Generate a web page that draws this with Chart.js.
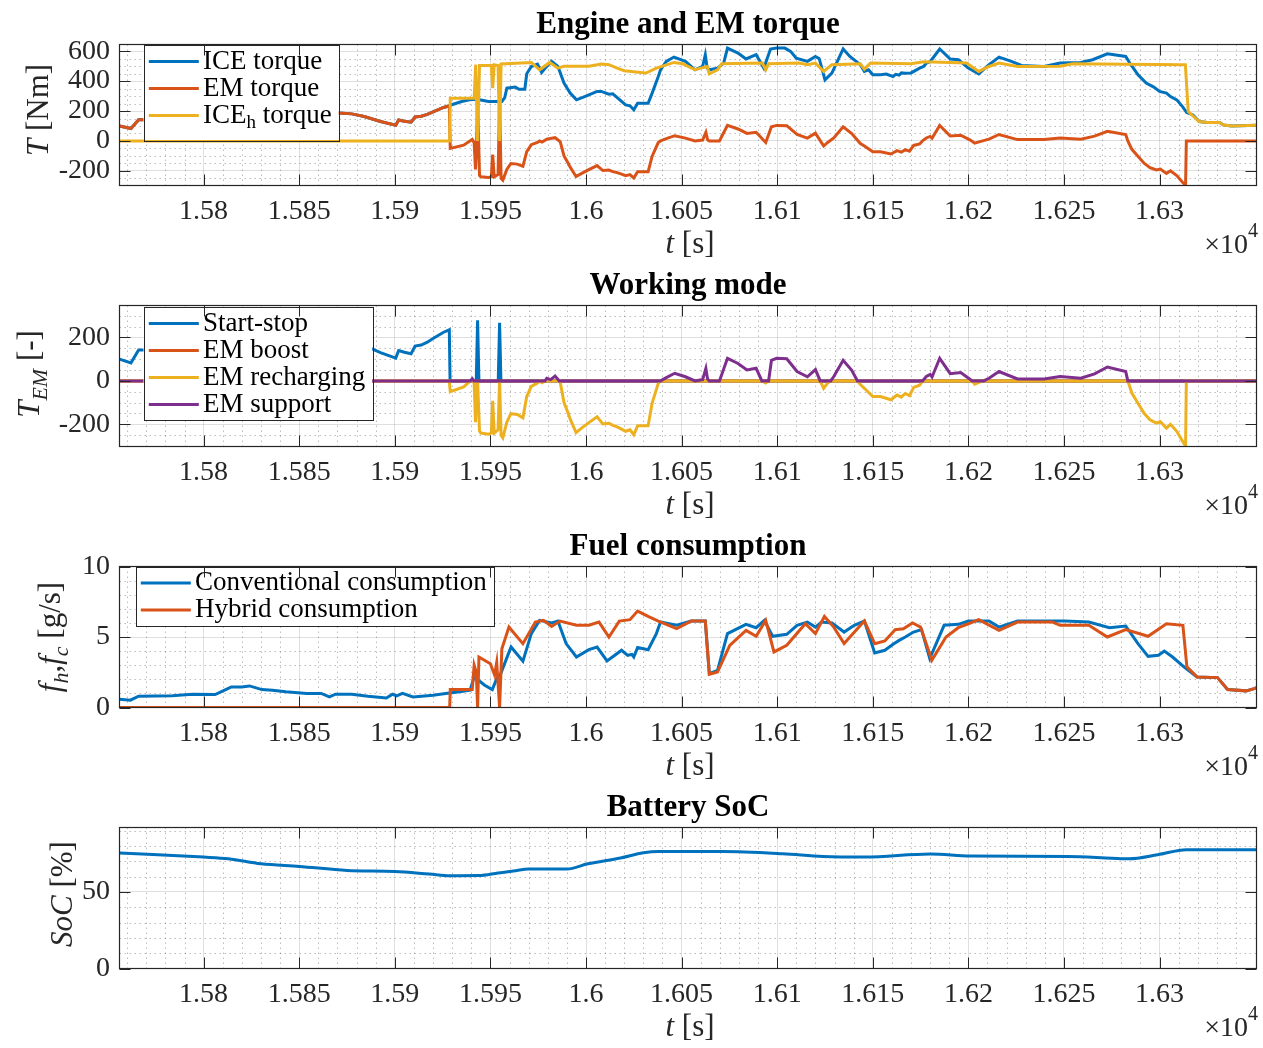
<!DOCTYPE html>
<html>
<head>
<meta charset="utf-8">
<title>Engine, EM, fuel and SoC</title>
<script src="https://cdn.jsdelivr.net/npm/chart.js@4.4.1/dist/chart.umd.min.js"></script>
<style>
  body { margin: 0; background: #fff; }
  canvas { position: absolute; left: 0; }
</style>
</head>
<body>
<canvas id="cTorque" width="1263" height="261" style="top:0px"></canvas>
<canvas id="cMode" width="1263" height="261" style="top:261px"></canvas>
<canvas id="cFuel" width="1263" height="261" style="top:522px"></canvas>
<canvas id="cSoc" width="1263" height="261" style="top:783px"></canvas>
<script>
// time axis (s), shown as x10^4
const X_MIN = 15756, X_MAX = 16350.7;
const xTicks = [15800, 15850, 15900, 15950, 16000, 16050, 16100, 16150, 16200, 16250, 16300];
const xTickLabels = ['1.58', '1.585', '1.59', '1.595', '1.6', '1.605', '1.61', '1.615', '1.62', '1.625', '1.63'];

// ---- Engine and EM torque [t, Nm]
const iceTorque = [[15756,100],[15762,83],[15766,142],[15770,142],[15780,150],[15800,175],[15815,210],[15830,210],[15850,195],[15873,186],
  [15877.5,181],[15884,163],[15892.5,130],[15900.5,105],[15902,140],[15905,132],[15908.5,125],[15910.6,160],[15913.8,165],[15917,178],
  [15920,195],[15925.5,224],[15928.5,235],[15929,239],[15935,264],[15939,275],[15943,279],[15949,264],[15956,264],[15957.5,290],
  [15958.6,353],[15963,360],[15965,346],[15968,346],[15969,449],[15971.4,498],[15974.6,514],[15976.8,458],[15979,492],[15982,532],
  [15985.3,498],[15988.5,387],[15991.7,320],[15995,275],[15998,290],[16001.5,308],[16005.8,331],[16008,331],[16012,313],[16014,315],
  [16018.6,264],[16020.7,241],[16023,235],[16025,208],[16027,252],[16032.5,252],[16034.6,320],[16037.8,431],[16039,476],[16042,532],
  [16046,561],[16052,532],[16057,476],[16061,498],[16062.4,577],[16063.4,487],[16064.5,476],[16068.8,487],[16072,521],[16074,621],
  [16079.5,588],[16083.7,548],[16089,577],[16093,487],[16096.5,615],[16099.7,621],[16104,621],[16107,599],[16110,554],[16115.8,532],
  [16120,565],[16122,550],[16125,409],[16128.6,454],[16134.5,615],[16138,565],[16143.5,510],[16145.6,465],[16147.8,476],[16150,443],
  [16154,443],[16157,447],[16160.6,431],[16162,445],[16163.8,440],[16165,455],[16167,452],[16170,455],[16174.5,487],[16176.6,498],
  [16178,520],[16180,530],[16185,615],[16190.5,548],[16194.8,543],[16200,487],[16205.4,449],[16210.8,510],[16216,561],[16222.5,532],
  [16227.8,505],[16239.6,498],[16248,521],[16258.8,525],[16265,543],[16272.7,583],[16282.3,565],[16284.4,521],[16288.7,443],[16293,387],
  [16297,360],[16300,331],[16303.6,320],[16305.7,297],[16309,275],[16312,230],[16314.2,190],[16317.5,174],[16320.7,130],[16325,123],
  [16331.4,123],[16333.5,107],[16337.8,100],[16350.7,105]];

const emTorque = [[15756,100],[15762,83],[15766,142],[15770,142],[15780,150],[15800,175],[15815,210],[15830,210],[15850,195],[15873,186],
  [15877.5,181],[15884,163],[15892.5,130],[15900.5,105],[15902,140],[15905,132],[15908.5,125],[15910.6,160],[15913.8,165],[15917,178],
  [15920,195],[15925.5,224],[15928.5,235],[15929,-50],[15936,-28],[15940.5,10],[15941.5,-12],[15942.2,-190],[15942.7,-60],[15943.3,279],
  [15944.3,-230],[15945,-240],[15949,-245],[15950.5,-240],[15951.2,-92],[15952,-240],[15954,-225],[15954.8,267],[15955.6,-250],[15956.5,-262],
  [15958.6,-190],[15960.7,-151],[15964,-155],[15967,-170],[15969,-72],[15971.4,-25],[15974.6,-10],[15975.7,0],[15977,-8],[15979.5,12],
  [15983.8,22],[15985.5,5],[15986.5,-5],[15988.5,-100],[15990.6,-147],[15991.7,-175],[15994.8,-238],[15998,-215],[16001.5,-192],[16005.8,-165],
  [16008.8,-198],[16012,-195],[16014,-205],[16016.3,-212],[16018.6,-222],[16020.7,-232],[16023,-225],[16025,-248],[16027,-206],[16032.5,-206],
  [16034.6,-102],[16037.8,-11],[16039,0],[16042,15],[16046.4,35],[16052,19],[16057,0],[16061,6],[16062.7,58],[16063.6,8],
  [16064.5,0],[16069.8,0],[16074,104],[16079.5,80],[16084.2,50],[16089,58],[16094,-10],[16097,95],[16099.7,104],[16105,102],
  [16110.4,43],[16115.8,19],[16120,52],[16124.3,-34],[16126.4,-10],[16129.6,20],[16134.5,95],[16139,49],[16143.5,-17],[16145.6,-34],
  [16150,-72],[16154,-72],[16159.5,-87],[16162.7,-65],[16164.9,-75],[16167,-58],[16169.2,-68],[16171.4,-30],[16174.5,-20],[16176,0],
  [16178,20],[16180,30],[16181,18],[16185,104],[16190.5,33],[16196,38],[16201,6],[16203.3,-15],[16206.5,-3],[16210.8,12],
  [16216,43],[16225.7,9],[16239.6,9],[16248,20],[16258.8,12],[16266,32],[16272.7,64],[16282.3,43],[16283.4,0],[16285.5,-56],
  [16288.7,-103],[16291.9,-149],[16295,-179],[16298.3,-194],[16300.4,-188],[16303.6,-217],[16305.7,-200],[16309,-232],[16312.2,-280],[16313.6,-296],
  [16314,0],[16350.7,0]];

const iceHTorque = [[15756,0],[15928.7,0],[15929,285],[15941.5,285],[15942.3,510],[15943.3,0],[15944.3,505],[15950.5,505],[15951.2,353],[15952,510],
  [15954,505],[15954.8,0],[15955.6,515],[15971.4,525],[15975.7,476],[15981,525],[15985.3,487],[15988.5,500],[16001.5,500],[16008,515],
  [16012,510],[16016.3,487],[16020,470],[16028.6,458],[16031.4,454],[16036.8,487],[16046,525],[16050.6,516],[16057,476],[16060,487],
  [16063.4,498],[16064.5,449],[16068.8,476],[16071,516],[16092.3,521],[16094,476],[16095.5,516],[16111.5,521],[16115.8,510],[16120,521],
  [16124.3,465],[16128.6,510],[16143.5,516],[16145.6,480],[16148.8,521],[16170,516],[16176.6,530],[16199,521],[16205.4,465],[16210.8,498],
  [16216,521],[16225.7,498],[16248,500],[16254.5,516],[16312,510],[16313.5,510],[16315,197],[16320.7,130],[16325,123],[16331.4,123],
  [16333.5,107],[16337.8,100],[16350.7,105]];

// ---- Working mode [t, Nm]
const startStop = [[15756,100],[15762,83],[15766,142],[15770,142],[15780,150],[15800,175],[15815,210],[15830,210],[15850,195],[15873,186],
  [15877.5,181],[15884,163],[15892.5,130],[15900.5,105],[15902,140],[15905,132],[15908.5,125],[15910.6,160],[15913.8,165],[15917,178],
  [15920,195],[15925.5,224],[15928.5,235],[15928.9,0],[15942.6,0],[15943.3,279],[15944,0],[15954.1,0],[15954.8,267],[15955.5,0],
  [16350.7,0]];
const emBoost = [[15756,0],[16350.7,0]];
const emRecharging = [[15756,0],[15928.5,0],[15929,-50],[15936,-28],[15939.5,0],[15941.3,0],[15941.5,-12],[15942.2,-190],[15942.7,-60],[15943.3,0],
  [15944.3,-230],[15945,-240],[15949,-245],[15950.5,-240],[15951.2,-92],[15952,-240],[15954,-225],[15954.8,0],[15955.6,-250],[15956.5,-262],
  [15958.6,-190],[15960.7,-151],[15964,-155],[15967,-170],[15969,-72],[15971.4,-25],[15974.6,-10],[15975.7,0],[15977,-8],[15978.5,0],
  [15986,0],[15986.5,-5],[15988.5,-100],[15990.6,-147],[15991.7,-175],[15994.8,-238],[15998,-215],[16001.5,-192],[16005.8,-165],[16008.8,-198],
  [16012,-195],[16014,-205],[16016.3,-212],[16018.6,-222],[16020.7,-232],[16023,-225],[16025,-248],[16027,-206],[16032.5,-206],[16034.6,-102],
  [16037.8,-11],[16039,0],[16092,0],[16094,-10],[16095.5,0],[16122.5,0],[16124.3,-34],[16126.4,-10],[16128,0],[16142,0],
  [16143.5,-17],[16145.6,-34],[16150,-72],[16154,-72],[16159.5,-87],[16162.7,-65],[16164.9,-75],[16167,-58],[16169.2,-68],[16171.4,-30],
  [16174.5,-20],[16176,0],[16202,0],[16203.3,-15],[16206.5,-3],[16208,0],[16283.4,0],[16285.5,-56],[16288.7,-103],[16291.9,-149],
  [16295,-179],[16298.3,-194],[16300.4,-188],[16303.6,-217],[16305.7,-200],[16309,-232],[16312.2,-280],[16313.6,-300],[16314,0],[16350.7,0]];
const emSupport = [[15756,0],[15939.5,0],[15940.5,10],[15941.3,0],[15978.5,0],[15979.5,12],[15981.5,6],[15983.8,22],[15985.5,5],[15986,0],
  [16039,0],[16042,15],[16046.4,35],[16052,19],[16057,0],[16061,6],[16062.7,58],[16063.6,8],[16064.5,0],[16069.8,0],
  [16074,104],[16079.5,80],[16084.2,50],[16089,58],[16092,0],[16095.5,0],[16097,95],[16099.7,104],[16105,102],[16110.4,43],
  [16115.8,19],[16120,52],[16122.5,0],[16128,0],[16129.6,20],[16134.5,95],[16139,49],[16142,0],[16176,0],[16178,20],
  [16180,30],[16181,18],[16185,104],[16190.5,33],[16196,38],[16201,6],[16202,0],[16208,0],[16210.8,12],[16216,43],
  [16225.7,9],[16239.6,9],[16248,20],[16258.8,12],[16266,32],[16272.7,64],[16282.3,43],[16283.4,0],[16350.7,0]];

// ---- Fuel consumption [t, g/s]
const convFuel = [[15756,0.59],[15761.7,0.52],[15766,0.8],[15783.6,0.83],[15794,0.94],[15806,0.92],[15811,1.23],[15814.5,1.46],[15819.9,1.46],[15824,1.53],
  [15830.5,1.27],[15836,1.23],[15843,1.11],[15854,1.0],[15861.5,1.0],[15865.8,0.75],[15869,0.94],[15877.5,0.94],[15886,0.8],[15895.6,0.68],
  [15898.8,0.94],[15901,0.83],[15904,1.0],[15909.5,0.75],[15914,0.8],[15920,0.87],[15926.6,1.0],[15933,1.1],[15939.4,1.23],[15941.5,2.17],
  [15947,1.58],[15951,1.27],[15953.3,2.05],[15955.4,2.4],[15960.8,4.29],[15967,3.28],[15971.4,5.24],[15975.7,6.18],[15982,6.0],[15985.3,6.13],
  [15989.6,4.53],[15995,3.58],[16001.5,4.1],[16005.8,4.29],[16011,3.3],[16014,3.6],[16018.6,4.06],[16021.8,3.7],[16024,3.77],[16025,3.58],
  [16027,4.25],[16032.5,4.1],[16036.8,5.24],[16039,6.06],[16047.4,5.83],[16055,6.13],[16062.4,6.13],[16064.5,2.4],[16068.8,2.64],[16074,5.24],
  [16083.7,5.9],[16089,5.66],[16093.3,6.18],[16097.6,5.05],[16105,5.19],[16110.4,5.83],[16115.8,6.06],[16120,5.7],[16123.2,6.06],[16128.6,6.0],
  [16135,5.35],[16140.3,5.83],[16145.6,6.13],[16151,3.87],[16156.3,4.06],[16160.6,4.48],[16163.8,4.76],[16167,5.0],[16171.3,5.35],[16175.5,5.52],
  [16179.8,3.47],[16187.3,5.83],[16194.7,5.9],[16200,6.13],[16210.8,6.13],[16216,5.7],[16225.7,6.13],[16250.3,6.13],[16263,6.06],[16273.8,5.66],
  [16282.3,5.78],[16288.7,4.53],[16294,3.63],[16299.4,3.7],[16302.5,4.0],[16306.8,3.58],[16313.2,2.83],[16319.6,2.17],[16330.3,2.12],[16335.6,1.27],
  [16345.3,1.18],[16349.5,1.34],[16350.7,1.4]];
const hybFuel = [[15756,0],[15928.7,0],[15929,1.27],[15940.5,1.27],[15941.5,3.0],[15942.6,2.5],[15943.3,0],[15944,3.58],[15950,3.1],[15952.2,2.3],
  [15953.3,3.2],[15954.8,0],[15956,4.17],[15959.7,5.7],[15967,4.53],[15973.5,6.06],[15977.8,6.18],[15982,5.75],[15986.4,6.13],[15995,5.83],
  [16001.5,5.83],[16006.8,6.06],[16012,5.0],[16017.4,6.13],[16023,6.23],[16027,6.84],[16032.5,6.46],[16037.8,6.13],[16047.4,5.59],[16055,6.13],
  [16062.4,6.13],[16064.5,2.36],[16068.8,2.52],[16075.2,4.41],[16083.7,5.47],[16089,5.05],[16094,6.18],[16098.3,3.94],[16105,4.41],[16114.7,5.94],
  [16120,5.24],[16124.7,6.46],[16129.6,5.7],[16135,4.53],[16145.6,6.13],[16151,4.53],[16156.3,4.72],[16161.7,5.52],[16166,5.59],[16170.8,6.0],
  [16175,5.7],[16180.9,3.35],[16188.3,5.0],[16194.7,5.66],[16200,5.94],[16205.4,6.23],[16216,5.47],[16225.7,6.06],[16244,6.06],[16248,5.83],
  [16263,5.83],[16272.7,5.0],[16282.3,5.52],[16294,5.05],[16303.6,5.94],[16312.2,5.83],[16314.3,2.88],[16319.6,2.17],[16330.3,2.12],[16335.6,1.27],
  [16345.3,1.18],[16349.5,1.34],[16350.7,1.4]];

// ---- Battery SoC [t, %]
const soc = [[15756,75.4],[15800,72.7],[15813,71.6],[15830,68.3],[15850,66.6],[15875,64.0],[15900,63.3],[15918,61.6],[15929,60.5],[15944,60.6],
  [15954,62.3],[15963,63.8],[15970,64.9],[15990,64.9],[16001,68.3],[16018,72.1],[16030,75.5],[16038,76.4],[16071,76.4],[16103,74.9],
  [16124,73.1],[16146,72.7],[16180,74.7],[16201,73.4],[16252,73.1],[16275,72.0],[16284,71.6],[16299,74.2],[16314,77.5],[16350.7,77.5]];

const BLUE = '#0072BD', ORANGE = '#D95319', YELLOW = '#EDB120', PURPLE = '#7E2F8E';
const FONT = '"Liberation Serif", "Times New Roman", serif';
const INK = '#262626';
const GRID = 'rgba(38,38,38,0.15)';

const panels = [
  { id: 'cTorque', title: 'Engine and EM torque',
    yMin: -298, yMax: 645, yTicks: [-200, 0, 200, 400, 600], yTickLabels: ['-200', '0', '200', '400', '600'], yMinor: 50,
    yTitle: [['T', 'i'], [' [Nm]', '']], yTitleX: 47.5, yTitleY: 110,
    legend: { x: 143.5, y: 44.5, h: 95.5, first: 17, step: 27 },
    lines: [['ICE torque', iceTorque, BLUE], ['EM torque', emTorque, ORANGE], ['ICE_h torque', iceHTorque, YELLOW]] },
  { id: 'cMode', title: 'Working mode',
    yMin: -302, yMax: 347, yTicks: [-200, 0, 200], yTickLabels: ['-200', '0', '200'], yMinor: 50,
    yTitle: [['T', 'i'], ['EM', 'i_'], [' [-]', '']], yTitleX: 39, yTitleY: 113,
    legend: { x: 143.5, y: 45.5, h: 112.5, first: 17, step: 27 },
    lines: [['Start-stop', startStop, BLUE], ['EM boost', emBoost, ORANGE], ['EM recharging', emRecharging, YELLOW], ['EM support', emSupport, PURPLE]] },
  { id: 'cFuel', title: 'Fuel consumption',
    yMin: 0, yMax: 10, yTicks: [0, 5, 10], yTickLabels: ['0', '5', '10'], yMinor: 1,
    yTitle: [['f', 'i'], ['h', 'i_'], [',', ''], ['f', 'i'], ['c', 'i_'], [' [g/s]', '']], yTitleX: 60, yTitleY: 115,
    legend: { x: 135.5, y: 44.5, h: 59, first: 16.5, step: 27 },
    lines: [['Conventional consumption', convFuel, BLUE], ['Hybrid consumption', hybFuel, ORANGE]] },
  { id: 'cSoc', title: 'Battery SoC', smooth: true,
    yMin: 0, yMax: 92, yTicks: [0, 50], yTickLabels: ['0', '50'], yMinor: 10,
    yTitle: [['SoC', 'i'], [' [%]', '']], yTitleX: 72, yTitleY: 111,
    legend: null,
    lines: [['SoC', soc, BLUE]] }
];

function segFont(style, size) {
  const small = style.indexOf('_') >= 0 || style.indexOf('^') >= 0;
  return (style.indexOf('i') >= 0 ? 'italic ' : '') + (style.indexOf('b') >= 0 ? 'bold ' : '') +
    (small ? Math.round(size * 0.7) : size) + 'px ' + FONT;
}

// draws text pieces [text, style] along a baseline; '_' = subscript, '^' = superscript, 'i' = italic
function drawSegs(ctx, segs, x, y, size, align) {
  const widths = segs.map(s => { ctx.font = segFont(s[1], size); return ctx.measureText(s[0]).width; });
  const total = widths.reduce((a, b) => a + b, 0);
  let cx = align === 'center' ? x - total / 2 : (align === 'right' ? x - total : x);
  segs.forEach((s, i) => {
    ctx.font = segFont(s[1], size);
    let dy = 0;
    if (s[1].indexOf('_') >= 0) dy = size * 0.27;
    if (s[1].indexOf('^') >= 0) dy = -size * 0.55;
    ctx.fillText(s[0], cx, y + dy);
    cx += widths[i];
  });
  return total;
}

function labelSegs(label) {
  const m = label.match(/^(.*)_(.)(.*)$/);
  return m ? [[m[1], ''], [m[2], '_'], [m[3], '']] : [[label, '']];
}

function decor(p) {
  return {
    id: 'decor',
    beforeDatasetsDraw(chart) {
      // dotted minor grid
      const { ctx, chartArea: a, scales: { x, y } } = chart;
      ctx.save();
      ctx.strokeStyle = 'rgba(38,38,38,0.3)';
      ctx.lineWidth = 1;
      ctx.setLineDash([1.5, 3.5]);
      for (let t = Math.ceil(X_MIN / 10) * 10; t < X_MAX; t += 10) {
        if (t % 50 === 0) continue;
        const px = Math.round(x.getPixelForValue(t)) + 0.5;
        ctx.beginPath(); ctx.moveTo(px, a.top); ctx.lineTo(px, a.bottom); ctx.stroke();
      }
      for (let v = Math.ceil(p.yMin / p.yMinor) * p.yMinor; v < p.yMax; v += p.yMinor) {
        if (p.yTicks.indexOf(v) >= 0) continue;
        const py = Math.round(y.getPixelForValue(v)) + 0.5;
        ctx.beginPath(); ctx.moveTo(a.left, py); ctx.lineTo(a.right, py); ctx.stroke();
      }
      ctx.restore();
    },
    afterDatasetsDraw(chart) {
      const { ctx, chartArea: a, scales: { x, y } } = chart;
      ctx.save();
      // legend box inside the axes
      if (p.legend) {
        const lg = p.legend, size = 27;
        let w = 0;
        chart.data.datasets.forEach(d => {
          const segs = labelSegs(d.label);
          let tw = 0;
          segs.forEach(s => { ctx.font = segFont(s[1], size); tw += ctx.measureText(s[0]).width; });
          w = Math.max(w, tw);
        });
        const textX = lg.x + 59.5;
        const bw = textX + w + 7 - lg.x;
        ctx.fillStyle = '#fff';
        ctx.fillRect(lg.x, lg.y, bw, lg.h);
        ctx.strokeStyle = INK; ctx.lineWidth = 1;
        ctx.strokeRect(Math.round(lg.x) + 0.5, Math.round(lg.y) + 0.5, Math.round(bw), Math.round(lg.h));
        chart.data.datasets.forEach((d, i) => {
          const ry = lg.y + lg.first + i * lg.step;
          ctx.strokeStyle = d.borderColor; ctx.lineWidth = 3;
          ctx.beginPath(); ctx.moveTo(lg.x + 5.3, ry); ctx.lineTo(lg.x + 55.3, ry); ctx.stroke();
          ctx.fillStyle = '#000';
          ctx.textBaseline = 'middle';
          drawSegs(ctx, labelSegs(d.label), textX, ry, size, 'left');
        });
      }
      // box and inward ticks
      ctx.strokeStyle = INK; ctx.lineWidth = 1.2;
      ctx.strokeRect(a.left, a.top, a.right - a.left, a.bottom - a.top);
      ctx.lineWidth = 1;
      ctx.beginPath();
      xTicks.forEach(t => {
        const px = Math.round(x.getPixelForValue(t)) + 0.5;
        ctx.moveTo(px, a.bottom); ctx.lineTo(px, a.bottom - 11);
        ctx.moveTo(px, a.top); ctx.lineTo(px, a.top + 11);
      });
      p.yTicks.forEach(v => {
        const py = Math.round(y.getPixelForValue(v)) + 0.5;
        ctx.moveTo(a.left, py); ctx.lineTo(a.left + 11, py);
        ctx.moveTo(a.right, py); ctx.lineTo(a.right - 11, py);
      });
      ctx.stroke();
      ctx.restore();
    },
    afterDraw(chart) {
      const { ctx, chartArea: a } = chart;
      ctx.save();
      ctx.textBaseline = 'alphabetic';
      // title
      ctx.fillStyle = '#000';
      ctx.font = 'bold 31px ' + FONT;
      ctx.textAlign = 'left';
      const tw = ctx.measureText(p.title).width;
      ctx.fillText(p.title, (a.left + a.right) / 2 - tw / 2, 33);
      // x label and exponent
      ctx.fillStyle = INK;
      drawSegs(ctx, [['t', 'i'], [' [s]', '']], 690, 252.5, 31, 'center');
      drawSegs(ctx, [['\u00d710', ''], ['4', '^']], 1258, 252.5, 28, 'right');
      // rotated y label
      ctx.translate(p.yTitleX, p.yTitleY);
      ctx.rotate(-Math.PI / 2);
      drawSegs(ctx, p.yTitle, 0, 0, 31, 'center');
      ctx.restore();
    }
  };
}

function makePanel(p) {
  const n = p.lines.length;
  return new Chart(document.getElementById(p.id), {
    type: 'line',
    data: {
      datasets: p.lines.map((l, i) => ({
        label: l[0],
        data: l[1].map(pt => ({ x: pt[0], y: pt[1] })),
        borderColor: l[2],
        backgroundColor: l[2],
        borderWidth: 3,
        pointRadius: 0,
        tension: 0,
        cubicInterpolationMode: p.smooth ? 'monotone' : 'default',
        fill: false,
        order: n - 1 - i
      }))
    },
    options: {
      responsive: false,
      animation: false,
      events: [],
      layout: { padding: { left: 0, right: 6.5, top: 44.5, bottom: 0 } },
      plugins: { legend: { display: false }, title: { display: false }, tooltip: { enabled: false } },
      scales: {
        x: {
          type: 'linear', min: X_MIN, max: X_MAX,
          afterBuildTicks: s => { s.ticks = xTicks.map(v => ({ value: v })); },
          afterFit: s => { s.height = 75.5; },
          grid: { color: GRID, drawTicks: false, lineWidth: 1 },
          border: { display: false },
          ticks: { font: { family: FONT, size: 28 }, color: INK, padding: 9, maxRotation: 0, autoSkip: false,
            callback: (v, i) => xTickLabels[i] }
        },
        y: {
          type: 'linear', min: p.yMin, max: p.yMax,
          afterBuildTicks: s => { s.ticks = p.yTicks.map(v => ({ value: v })); },
          afterFit: s => { s.width = 119.5; },
          grid: { color: GRID, drawTicks: false, lineWidth: 1 },
          border: { display: false },
          ticks: { font: { family: FONT, size: 28 }, color: INK, padding: 9.5, autoSkip: false,
            callback: (v, i) => p.yTickLabels[i] }
        }
      }
    },
    plugins: [decor(p)]
  });
}

panels.forEach(makePanel);
</script>
</body>
</html>
